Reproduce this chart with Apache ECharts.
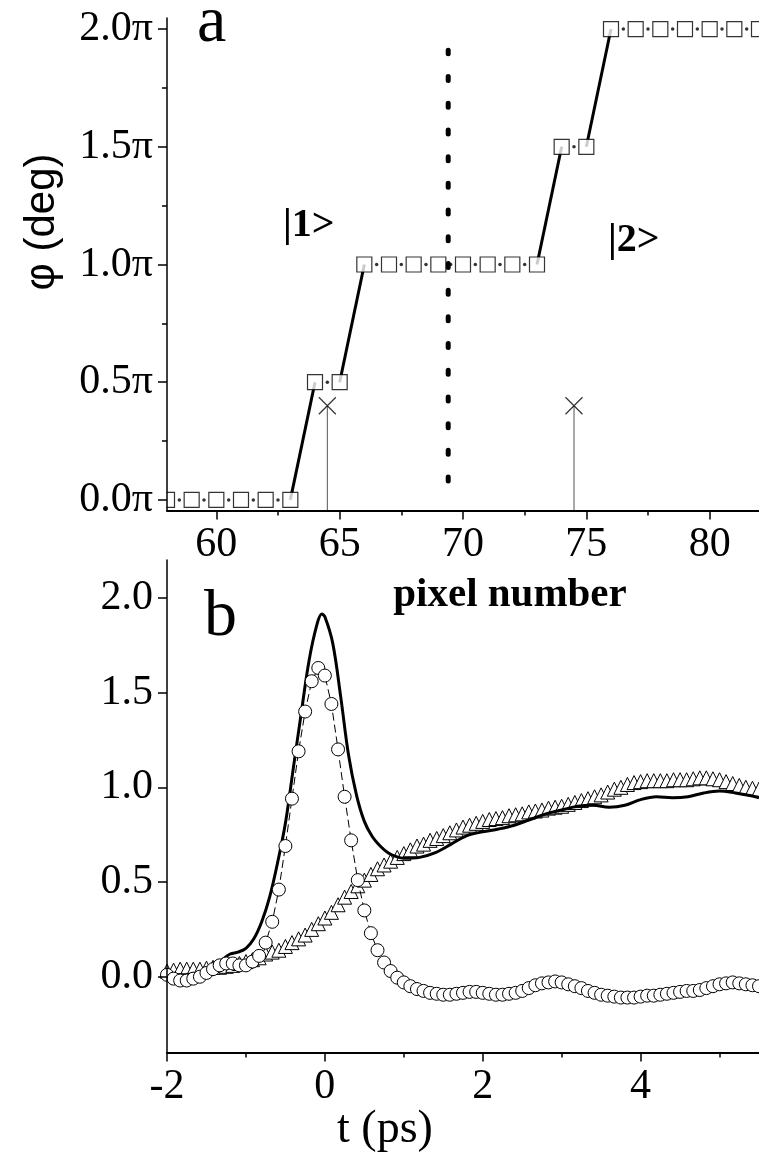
<!DOCTYPE html>
<html>
<head>
<meta charset="utf-8">
<script src="https://cdn.jsdelivr.net/npm/echarts@6/dist/echarts.min.js"></script>
<style>
  html, body { margin: 0; padding: 0; background: #fff; }
  #chart { width: 759px; height: 1153px; }
</style>
</head>
<body>
<div id="chart"></div>
<script>
// ---------- panel a: phase step per pixel ----------
const pixels   = [58, 59, 60, 61, 62, 63, 64, 65, 66, 67, 68, 69, 70, 71, 72, 73, 74, 75, 76, 77, 78, 79, 80, 81, 82];
const phasePi  = [0, 0, 0, 0, 0, 0, 0.5, 0.5, 1, 1, 1, 1, 1, 1, 1, 1, 1.5, 1.5, 2, 2, 2, 2, 2, 2, 2];
const markerPixels   = [64.5, 74.5];
const markerPhasePi  = [0.4, 0.4];
const dividerPixel   = 69.4;
const dividerSpanPi  = [0.08, 1.91];
const phaseTicksPi   = [0, 0.5, 1, 1.5, 2];
const phaseMinorPi   = [0.25, 0.75, 1.25, 1.75];
const pixelTicks     = [60, 65, 70, 75, 80];
const pixelMinor     = [62.5, 67.5, 72.5, 77.5];

// ---------- panel b: signals versus delay ----------
const tSamples = [
  -2, -1.917, -1.833, -1.75, -1.667, -1.583, -1.5, -1.417, -1.333, -1.25, -1.167, -1.083,
  -1, -0.917, -0.833, -0.75, -0.667, -0.583, -0.5, -0.417, -0.333, -0.25, -0.167, -0.083,
  0, 0.083, 0.167, 0.25, 0.333, 0.417, 0.5, 0.583, 0.667, 0.75, 0.833, 0.917,
  1, 1.083, 1.167, 1.25, 1.333, 1.417, 1.5, 1.583, 1.667, 1.75, 1.833, 1.917,
  2, 2.083, 2.167, 2.25, 2.333, 2.417, 2.5, 2.583, 2.667, 2.75, 2.833, 2.917,
  3, 3.083, 3.167, 3.25, 3.333, 3.417, 3.5, 3.583, 3.667, 3.75, 3.833, 3.917,
  4, 4.083, 4.167, 4.25, 4.333, 4.417, 4.5, 4.583, 4.667, 4.75, 4.833, 4.917,
  5, 5.083, 5.167, 5.25, 5.333, 5.417, 5.5
];
const circleValues = [
  0.01, -0.01, -0.02, -0.02, -0.01, 0.00, 0.02, 0.04, 0.06, 0.07, 0.07, 0.06,
  0.06, 0.08, 0.11, 0.18, 0.29, 0.46, 0.69, 0.94, 1.19, 1.40, 1.56, 1.63,
  1.59, 1.44, 1.20, 0.95, 0.72, 0.51, 0.35, 0.23, 0.14, 0.075, 0.03, -0.005,
  -0.03, -0.05, -0.065, -0.075, -0.085, -0.09, -0.095, -0.095, -0.09, -0.085, -0.08, -0.08,
  -0.085, -0.09, -0.095, -0.095, -0.09, -0.085, -0.075, -0.06, -0.045, -0.035, -0.03, -0.025,
  -0.03, -0.04, -0.05, -0.06, -0.075, -0.085, -0.095, -0.10, -0.105, -0.11, -0.11, -0.11,
  -0.105, -0.10, -0.10, -0.095, -0.09, -0.085, -0.08, -0.075, -0.075, -0.07, -0.06, -0.05,
  -0.04, -0.035, -0.03, -0.035, -0.04, -0.045, -0.05
];
const triangleValues = [
  0.03, 0.035, 0.04, 0.04, 0.04, 0.04, 0.045, 0.05, 0.05, 0.055, 0.06, 0.07,
  0.08, 0.09, 0.10, 0.12, 0.13, 0.14, 0.16, 0.18, 0.20, 0.22, 0.25, 0.28,
  0.31, 0.34, 0.38, 0.42, 0.45, 0.48, 0.51, 0.54, 0.57, 0.59, 0.61, 0.63,
  0.65, 0.67, 0.69, 0.70, 0.72, 0.73, 0.745, 0.76, 0.775, 0.79, 0.80, 0.81,
  0.82, 0.83, 0.835, 0.84, 0.85, 0.855, 0.86, 0.87, 0.875, 0.88, 0.89, 0.895,
  0.90, 0.91, 0.92, 0.93, 0.94, 0.95, 0.96, 0.975, 0.99, 1.00, 1.015, 1.025,
  1.03, 1.035, 1.035, 1.035, 1.035, 1.04, 1.04, 1.04, 1.045, 1.05, 1.05, 1.045,
  1.04, 1.03, 1.02, 1.01, 1.00, 0.995, 0.99
];
const solidT = [
  -2, -1.8, -1.6, -1.5, -1.4, -1.3, -1.2, -1.1, -1.0, -0.9, -0.8, -0.7, -0.6, -0.5, -0.4, -0.3,
  -0.2, -0.1, -0.04, 0, 0.1, 0.2, 0.3, 0.4, 0.5, 0.6, 0.7, 0.8, 0.9, 1.0, 1.2, 1.4, 1.6, 1.8,
  2.0, 2.2, 2.4, 2.6, 2.8, 3.0, 3.2, 3.4, 3.6, 3.8, 4.0, 4.2, 4.4, 4.6, 4.8, 5.0, 5.2, 5.4, 5.5
];
const solidValues = [
  0.02, 0.01, 0.02, 0.03, 0.05, 0.09, 0.12, 0.13, 0.15, 0.20, 0.29, 0.42, 0.60, 0.81, 1.10, 1.39,
  1.67, 1.86, 1.915, 1.90, 1.76, 1.48, 1.17, 0.96, 0.82, 0.74, 0.69, 0.655, 0.635, 0.625, 0.63, 0.655, 0.70, 0.745,
  0.765, 0.78, 0.80, 0.83, 0.86, 0.88, 0.90, 0.905, 0.895, 0.905, 0.935, 0.95, 0.945, 0.95, 0.97, 0.98, 0.97, 0.955, 0.945
];
const timeTicks   = [-2, 0, 2, 4];
const timeMinor   = [-1, 1, 3, 5];
const signalTicks = [0, 0.5, 1, 1.5, 2];

// ---------- layout ----------
const PHASE_MIN = -0.045, PHASE_MAX = 2.047;
const SERIF = "'Liberation Serif', 'DejaVu Serif', serif";
const SANS  = "'Liberation Sans', Arial, sans-serif";
const tickFont = { fontFamily: SERIF, fontSize: 42, color: '#000' };

function majorAxis(dim, gridIndex, min, max, ticks, fmt) {
  return {
    type: 'value', gridIndex, min, max, z: 10,
    position: dim === 'x' ? 'bottom' : 'left',
    axisLine: { show: true, onZero: false, lineStyle: { color: '#000', width: dim === 'x' ? 2 : 1.5 } },
    axisTick: { show: true, customValues: ticks, length: 9, lineStyle: { color: '#000', width: 1.5 } },
    axisLabel: Object.assign({ customValues: ticks, margin: dim === 'x' ? 13 : 14, formatter: fmt }, tickFont),
    splitLine: { show: false }
  };
}
function minorAxis(dim, gridIndex, min, max, ticks) {
  return {
    type: 'value', gridIndex, min, max, z: 10,
    position: dim === 'x' ? 'bottom' : 'left',
    axisLine: { show: false, onZero: false },
    axisTick: { show: true, customValues: ticks, length: 5, lineStyle: { color: '#000', width: 1.5 } },
    axisLabel: { show: false },
    splitLine: { show: false }
  };
}

// ---------- panel a series ----------
const squares = pixels.map((p, i) => [p, phasePi[i]]);
const plateauDots = [];
const steps = [];
for (let i = 1; i < pixels.length; i++) {
  if (phasePi[i] === phasePi[i - 1]) {
    plateauDots.push([(pixels[i] + pixels[i - 1]) / 2, phasePi[i]]);
  } else {
    steps.push([[pixels[i - 1], phasePi[i - 1]], [pixels[i], phasePi[i]]]);
  }
}
const stepSeries = steps.map(seg => ({
  type: 'line', xAxisIndex: 0, yAxisIndex: 0, data: seg, symbol: 'none', z: 2,
  lineStyle: { color: '#000', width: 3 }, silent: true
}));
const dropSeries = markerPixels.map((p, i) => ({
  type: 'line', xAxisIndex: 0, yAxisIndex: 0, data: [[p, PHASE_MIN], [p, markerPhasePi[i]]],
  symbol: 'none', z: 1, lineStyle: { color: '#555', width: 1 }, silent: true
}));

// ---------- panel b series ----------
const circles   = tSamples.map((t, i) => [t, circleValues[i]]);
const triangles = tSamples.map((t, i) => [t, triangleValues[i]]);
const solid     = solidT.map((t, i) => [t, solidValues[i]]);

const chart = echarts.init(document.getElementById('chart'), null, { renderer: 'canvas' });
chart.setOption({
  animation: false,
  backgroundColor: '#fff',
  grid: [
    { left: 167, top: 18, right: 0, height: 492.5 },
    { left: 167, top: 560, right: 0, height: 492.5 }
  ],
  xAxis: [
    majorAxis('x', 0, 58, 82, pixelTicks),
    minorAxis('x', 0, 58, 82, pixelMinor),
    majorAxis('x', 1, -2, 5.5, timeTicks, v => String(v)),
    minorAxis('x', 1, -2, 5.5, timeMinor)
  ],
  yAxis: [
    majorAxis('y', 0, PHASE_MIN, PHASE_MAX, phaseTicksPi, v => v.toFixed(1) + 'π'),
    minorAxis('y', 0, PHASE_MIN, PHASE_MAX, phaseMinorPi),
    majorAxis('y', 1, -0.4, 2.2, signalTicks, v => v.toFixed(1))
  ],
  series: [
    ...dropSeries,
    {
      type: 'scatter', xAxisIndex: 0, yAxisIndex: 0, data: markerPixels.map((p, i) => [p, markerPhasePi[i]]),
      symbol: 'path://M0 0L10 10M10 0L0 10', symbolSize: 17, z: 3,
      itemStyle: { color: 'none', borderColor: '#000', borderWidth: 1.2 }, silent: true
    },
    {
      type: 'line', xAxisIndex: 0, yAxisIndex: 0, data: [[dividerPixel, dividerSpanPi[0]], [dividerPixel, dividerSpanPi[1]]],
      symbol: 'none', z: 1, silent: true,
      lineStyle: { color: '#000', width: 5, type: [4, 22.7], cap: 'round' }
    },
    ...stepSeries,
    {
      type: 'scatter', xAxisIndex: 0, yAxisIndex: 0, data: plateauDots,
      symbol: 'circle', symbolSize: 3.5, z: 3, itemStyle: { color: '#000' }, silent: true
    },
    {
      type: 'scatter', xAxisIndex: 0, yAxisIndex: 0, data: squares,
      symbol: 'rect', symbolSize: 15, z: 4,
      itemStyle: { color: '#fff', borderColor: '#000', borderWidth: 1.2 }, silent: true
    },
    {
      type: 'line', xAxisIndex: 2, yAxisIndex: 2, data: triangles, z: 2,
      symbol: 'triangle', symbolSize: 14, showAllSymbol: true,
      lineStyle: { color: '#777', width: 1 },
      itemStyle: { color: '#fff', borderColor: '#000', borderWidth: 1 }, silent: true
    },
    {
      type: 'line', xAxisIndex: 2, yAxisIndex: 2, data: solid, z: 3, smooth: 0.35,
      symbol: 'none', lineStyle: { color: '#000', width: 3 }, silent: true
    },
    {
      type: 'line', xAxisIndex: 2, yAxisIndex: 2, data: circles, z: 4,
      symbol: 'circle', symbolSize: 13, showAllSymbol: true,
      lineStyle: { color: '#000', width: 1, type: [8, 4] },
      itemStyle: { color: '#fff', borderColor: '#000', borderWidth: 1 }, silent: true
    }
  ],
  graphic: [
    // hides the half of the first square that falls left of the phase axis
    { type: 'rect', z: 5, shape: { x: 155, y: 488, width: 11.5, height: 22 }, style: { fill: '#fff' }, silent: true },
    { type: 'text', z: 20, style: { text: 'a', x: 197, y: 24, font: '66px ' + SERIF, fill: '#000', textVerticalAlign: 'middle' } },
    { type: 'text', z: 20, style: { text: 'b', x: 204, y: 618, font: '66px ' + SERIF, fill: '#000', textVerticalAlign: 'middle' } },
    { type: 'text', z: 20, style: { text: '|1>', x: 283, y: 246, font: 'bold 40px ' + SERIF, fill: '#000', textVerticalAlign: 'bottom' } },
    { type: 'text', z: 20, style: { text: '|2>', x: 608, y: 261, font: 'bold 40px ' + SERIF, fill: '#000', textVerticalAlign: 'bottom' } },
    { type: 'text', z: 20, style: { text: 'pixel number', x: 510, y: 595, font: 'bold 41px ' + SERIF, fill: '#000', textAlign: 'center', textVerticalAlign: 'middle' } },
    { type: 'text', z: 20, style: { text: 't (ps)', x: 385, y: 1130, font: '46px ' + SERIF, fill: '#000', textAlign: 'center', textVerticalAlign: 'middle' } },
    { type: 'text', z: 20, rotation: Math.PI / 2, x: 42, y: 222,
      style: { text: 'φ (deg)', x: 0, y: 0, font: '42px ' + SANS, fill: '#000', textAlign: 'center', textVerticalAlign: 'middle' } }
  ]
});
</script>
</body>
</html>
